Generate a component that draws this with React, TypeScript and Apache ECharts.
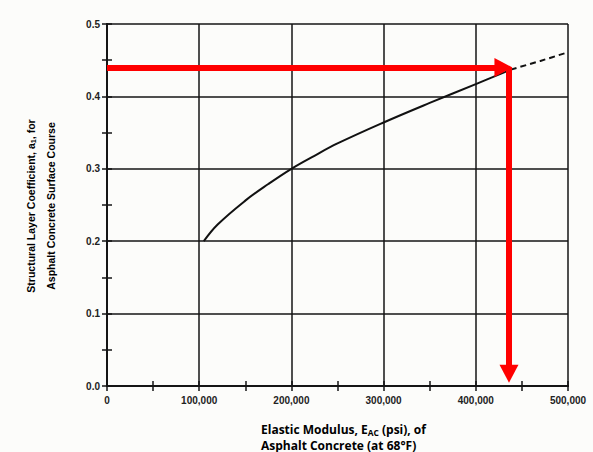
import React, { useEffect, useRef } from "react";
import * as echarts from "echarts";

// ---- data ----
const curveSolid: [number, number][] = [
  [105000, 0.2],
  [120000, 0.223],
  [150000, 0.256],
  [175000, 0.279],
  [200000, 0.3],
  [225000, 0.318],
  [250000, 0.335],
  [300000, 0.364],
  [350000, 0.391],
  [400000, 0.417],
  [438000, 0.437],
];
const curveDashed: [number, number][] = [
  [438000, 0.437],
  [470000, 0.449],
  [500000, 0.461],
];
const xTickLabels = ["0", "100,000", "200,000", "300,000", "400,000", "500,000"];
const yTickLabels = ["0.0", "0.1", "0.2", "0.3", "0.4", "0.5"];
const guideY = 0.44;
const guideX = 436000;
const arrowEndX = 430000;
const arrowEndY = 0.017;

const FONT = "'Liberation Sans', Arial, sans-serif";
const NAME_FONT = "'Open Sans', 'Liberation Sans', Arial, sans-serif";

export default function App() {
  const ref = useRef<HTMLDivElement>(null);
  useEffect(() => {
    if (!ref.current) return;
    const chart = echarts.init(ref.current, undefined, { renderer: "svg" });
    const gridColor = "#151515";
    const minorTick = {
      show: true,
      splitNumber: 2,
      length: 5,
      lineStyle: { color: gridColor, width: 1.5 },
    };
    const axisTick = {
      show: true,
      inside: true,
      length: 5,
      lineStyle: { color: gridColor, width: 1.5 },
    };
    const axisLine = { show: true, lineStyle: { color: gridColor, width: 2 } };
    const tickLabelStyle = {
      fontFamily: FONT,
      fontWeight: "bold" as const,
      fontSize: 10,
      color: "#222",
    };
    const mkRich = (family: string, size: number) => ({
      b: { fontFamily: family, fontWeight: "bold", fontSize: size, color: "#222" },
      s: {
        fontFamily: family,
        fontWeight: "bold",
        fontSize: size * 0.7,
        color: "#222",
        padding: [Math.round(size * 0.5), 0, 0, 0],
      },
    });
    chart.setOption({
      animation: false,
      backgroundColor: "#fcfcfa",
      grid: { left: 107, right: 25, top: 24, bottom: 66, containLabel: false },
      xAxis: [
        {
          type: "value",
          position: "bottom",
          min: 0,
          max: 500000,
          interval: 100000,
          axisLine,
          axisTick,
          minorTick,
          splitLine: { show: true, lineStyle: { color: gridColor, width: 1.5 } },
          axisLabel: {
            ...tickLabelStyle,
            margin: 9,
            formatter: (v: number) => xTickLabels[Math.round(v / 100000)],
          },
        },
        {
          type: "value",
          position: "top",
          min: 0,
          max: 500000,
          interval: 100000,
          axisLine,
          axisTick,
          minorTick,
          splitLine: { show: false },
          axisLabel: { show: false },
        },
      ],
      yAxis: [
        {
          type: "value",
          position: "left",
          min: 0,
          max: 0.5,
          interval: 0.1,
          axisLine,
          axisTick,
          minorTick,
          splitLine: { show: true, lineStyle: { color: gridColor, width: 1.5 } },
          axisLabel: {
            ...tickLabelStyle,
            margin: 7,
            formatter: (v: number) => yTickLabels[Math.round(v * 10)],
          },
        },
        {
          type: "value",
          position: "right",
          min: 0,
          max: 0.5,
          interval: 0.1,
          axisLine,
          axisTick,
          minorTick,
          splitLine: { show: false },
          axisLabel: { show: false },
        },
      ],
      graphic: [
        {
          type: "text",
          x: 41,
          y: 206,
          rotation: Math.PI / 2,
          style: {
            text:
              "{b|Structural Layer Coefficient, a}{s|1}{b|, for}\n{b|Asphalt Concrete Surface Course}",
            rich: mkRich(FONT, 10.5),
            align: "center",
            verticalAlign: "middle",
            lineHeight: 20,
          },
        },
        {
          type: "text",
          x: 261,
          y: 421,
          style: {
            text:
              "{b|Elastic Modulus, E}{s|AC}{b| (psi), of}\n{b|Asphalt Concrete (at 68°F)}",
            rich: mkRich(NAME_FONT, 12),
            align: "left",
            verticalAlign: "top",
            lineHeight: 16,
          },
        },
      ],
      series: [
        {
          type: "line",
          data: curveSolid,
          smooth: 0.4,
          showSymbol: false,
          symbol: "none",
          lineStyle: { color: "#111", width: 2 },
          z: 3,
        },
        {
          type: "line",
          data: curveDashed,
          smooth: 0.3,
          showSymbol: false,
          symbol: "none",
          lineStyle: { color: "#111", width: 2, type: [6, 4] },
          z: 3,
        },
        {
          type: "line",
          data: [],
          z: 5,
          markLine: {
            silent: true,
            animation: false,
            symbol: ["none", "triangle"],
            symbolSize: [19, 18],
            label: { show: false },
            lineStyle: { color: "#ff0000", width: 6, type: "solid" },
            data: [
              [{ coord: [0, guideY] }, { coord: [arrowEndX, guideY] }],
              [{ coord: [guideX, guideY] }, { coord: [guideX, arrowEndY] }],
            ],
          },
        },
      ],
    });
    return () => chart.dispose();
  }, []);
  return (
    <div
      ref={ref}
      style={{ position: "fixed", left: 0, top: 0, width: 593, height: 452 }}
    />
  );
}
